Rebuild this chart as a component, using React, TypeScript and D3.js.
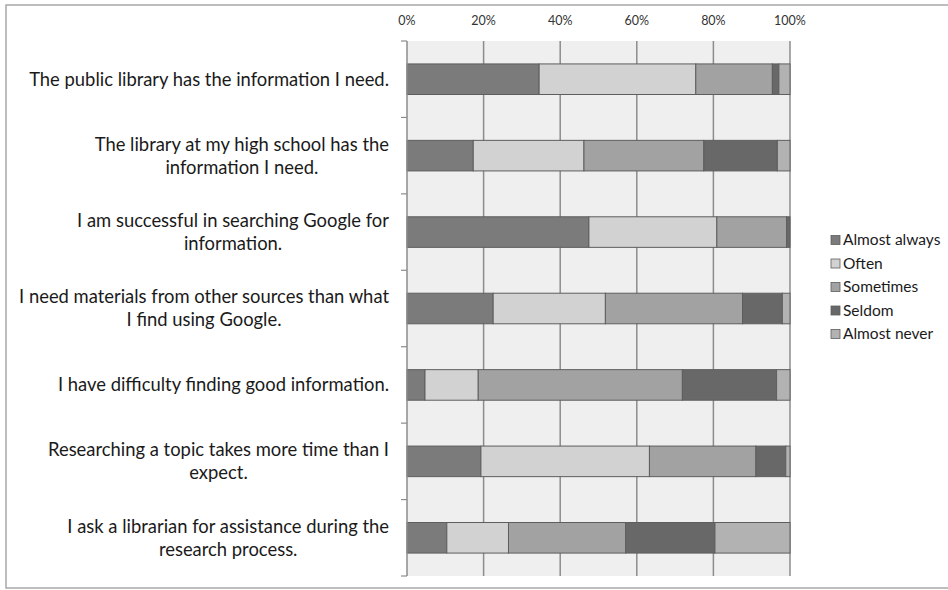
import React, { useEffect, useRef } from "react";
import * as d3 from "d3";

const categories = [
  "The public library has the information I need.",
  "The library at my high school has the|information I need.",
  "I am successful in searching Google for|information.",
  "I need materials from other sources than what|I find using Google.",
  "I have difficulty finding good information.",
  "Researching a topic takes more time than I|expect.",
  "I ask a librarian for assistance during the|research process.",
];

const seriesNames = ["Almost always", "Often", "Sometimes", "Seldom", "Almost never"];

const almostAlways = [34.5, 17.3, 47.5, 22.5, 4.7, 19.3, 10.4];
const often = [40.9, 28.9, 33.4, 29.3, 13.9, 44.0, 16.1];
const sometimes = [20.0, 31.3, 18.2, 35.8, 53.3, 27.8, 30.6];
const seldom = [1.7, 19.2, 0.9, 10.4, 24.6, 7.8, 23.3];
const almostNever = [2.9, 3.3, 0.0, 2.0, 3.5, 1.1, 19.6];

const tickValues = [0, 20, 40, 60, 80, 100];

const colors = ["#7b7b7b", "#d2d2d2", "#a2a2a2", "#686868", "#b2b2b2"];

const W = 948;
const H = 590;
const FONT = "Lato, 'Open Sans', sans-serif";

export default function App() {
  const ref = useRef<SVGSVGElement | null>(null);

  useEffect(() => {
    const svg = d3.select(ref.current);
    svg.selectAll("*").remove();

    const plot = { left: 407, right: 790, top: 41, bottom: 576 };

    const x = d3.scaleLinear().domain([0, 100]).range([plot.left, plot.right]);
    const y = d3
      .scaleBand<number>()
      .domain(d3.range(categories.length))
      .range([plot.top, plot.bottom])
      .paddingInner(0.6)
      .paddingOuter(0.3);

    // outer chart frame
    svg
      .append("rect")
      .attr("x", 6)
      .attr("y", 5)
      .attr("width", W + 10)
      .attr("height", 583)
      .attr("fill", "#ffffff")
      .attr("stroke", "#a8a8a8")
      .attr("stroke-width", 1.5);

    // plot background
    svg
      .append("rect")
      .attr("x", plot.left)
      .attr("y", plot.top)
      .attr("width", plot.right - plot.left)
      .attr("height", plot.bottom - plot.top)
      .attr("fill", "#efefef");

    // vertical gridlines
    svg
      .append("g")
      .selectAll("line")
      .data(tickValues.slice(1))
      .join("line")
      .attr("x1", (d) => x(d))
      .attr("x2", (d) => x(d))
      .attr("y1", plot.top)
      .attr("y2", plot.bottom)
      .attr("stroke", "#8c8c8c")
      .attr("stroke-width", 1.5);

    // top tick labels
    svg
      .append("g")
      .selectAll("text")
      .data(tickValues)
      .join("text")
      .attr("x", (d) => x(d))
      .attr("y", 25)
      .attr("text-anchor", "middle")
      .attr("font-family", FONT)
      .attr("font-size", 12.5)
      .attr("fill", "#333")
      .text((d) => `${d}%`);

    // stacked bars
    const seriesData = [almostAlways, often, sometimes, seldom, almostNever];
    const rows = categories.map((c, i) => {
      const row: Record<string, number> = { idx: i };
      seriesNames.forEach((s, k) => (row[s] = seriesData[k][i]));
      return row;
    });
    const stacked = d3.stack<Record<string, number>>().keys(seriesNames)(rows);

    svg
      .append("g")
      .selectAll("g")
      .data(stacked)
      .join("g")
      .attr("fill", (_, k) => colors[k])
      .selectAll("rect")
      .data((s) => s.filter((d) => d[1] - d[0] > 0))
      .join("rect")
      .attr("x", (d) => x(d[0]))
      .attr("y", (d) => y(d.data.idx)!)
      .attr("width", (d) => x(d[1]) - x(d[0]))
      .attr("height", y.bandwidth())
      .attr("stroke", "#5e5e5e")
      .attr("stroke-width", 1);

    // left axis line and ticks at category boundaries
    svg
      .append("line")
      .attr("x1", plot.left)
      .attr("x2", plot.left)
      .attr("y1", plot.top)
      .attr("y2", plot.bottom)
      .attr("stroke", "#8c8c8c")
      .attr("stroke-width", 1.5);
    const step = y.step();
    svg
      .append("g")
      .selectAll("line")
      .data(d3.range(categories.length + 1))
      .join("line")
      .attr("x1", plot.left - 6)
      .attr("x2", plot.left)
      .attr("y1", (i) => plot.top + i * step)
      .attr("y2", (i) => plot.top + i * step)
      .attr("stroke", "#8c8c8c")
      .attr("stroke-width", 1.2);

    // category labels: each block right-aligned to the axis, lines centred within it
    const labelRight = 389;
    const lineH = 23;
    const labels = svg.append("g");
    categories.forEach((c, i) => {
      const lines = c.split("|");
      const cy = plot.top + (i + 0.5) * step;
      const g = labels.append("g");
      const texts = lines.map((ln, j) =>
        g
          .append("text")
          .attr("y", cy + (j - (lines.length - 1) / 2) * lineH)
          .attr("dy", "0.35em")
          .attr("text-anchor", "middle")
          .attr("font-family", FONT)
          .attr("font-size", 18.4)
          .attr("fill", "#1a1a1a")
          .text(ln)
      );
      const widths = texts.map((t) => (t.node() as SVGTextElement).getComputedTextLength());
      const maxW = d3.max(widths) || 0;
      texts.forEach((t) => t.attr("x", labelRight - maxW / 2));
    });

    // legend
    const legend = svg.append("g").attr("transform", "translate(831,240)");
    seriesNames.forEach((s, k) => {
      const g = legend.append("g").attr("transform", `translate(0,${k * 23.5})`);
      g.append("rect")
        .attr("x", 0)
        .attr("y", -4.5)
        .attr("width", 9)
        .attr("height", 9)
        .attr("fill", colors[k])
        .attr("stroke", "#5e5e5e")
        .attr("stroke-width", 0.8);
      g.append("text")
        .attr("x", 12)
        .attr("dy", "0.35em")
        .attr("font-family", FONT)
        .attr("font-size", 15.5)
        .attr("fill", "#1a1a1a")
        .text(s);
    });
  }, []);

  return (
    <svg
      ref={ref}
      width={W}
      height={H}
      style={{ position: "absolute", left: 0, top: 0, background: "#fff" }}
    />
  );
}
